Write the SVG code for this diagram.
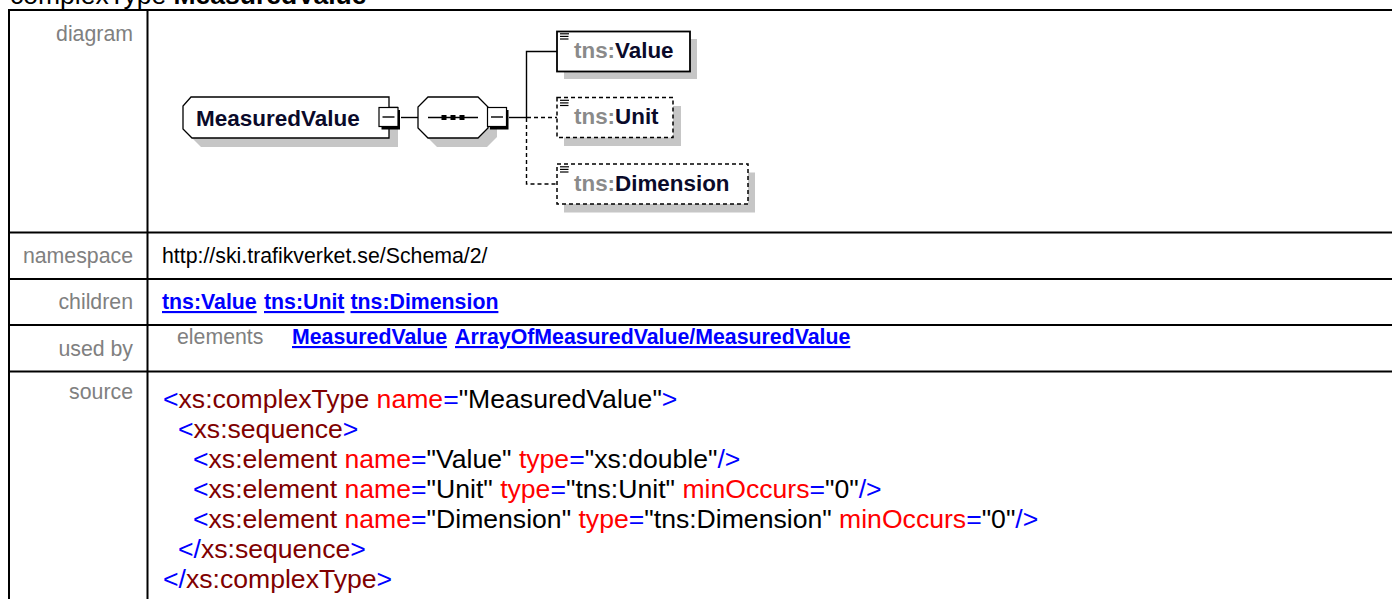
<svg xmlns="http://www.w3.org/2000/svg" width="1392" height="599" viewBox="0 0 1392 599">
  <style>
    text { font-family: "Liberation Sans", Arial, Helvetica, sans-serif; }
    .hdr { font-size: 26.5px; fill: #000; }
    .lbl { font-size: 21.3px; fill: #808080; text-anchor: end; }
    .lbl2 { font-size: 21.3px; fill: #808080; }
    .val { font-size: 21.3px; fill: #000; }
    .lnk { font-size: 21.3px; font-weight: bold; fill: #0000ff; text-decoration: underline; }
    .src { font-size: 26.6px; fill: #000; }
    .src .b { fill: #0000ff; }
    .src .t { fill: #800000; }
    .src .a { fill: #ff0000; }
    .grid { stroke: #000; stroke-width: 2; fill: none; }
    .shadow { fill: #c6c6c6; stroke: none; }
    .shape { fill: #fff; stroke: #000; stroke-width: 1.3; }
    .box { fill: #fff; stroke: #000; stroke-width: 1.8; }
    .opt { fill: #fff; stroke: #000; stroke-width: 1.5; stroke-dasharray: 4 3; }
    .wire { stroke: #000; stroke-width: 1.4; fill: none; }
    .dash { stroke: #000; stroke-width: 1.4; fill: none; stroke-dasharray: 4 3; }
    .btn { fill: #fff; stroke: #000; stroke-width: 1.2; }
    .btnsh { stroke: #000; stroke-width: 3; fill: none; }
    .ico { stroke: #000; stroke-width: 1.2; }
    .name { font-size: 22.5px; font-weight: bold; fill: #0a0a2a; }
    .pfx { font-size: 22.4px; font-weight: bold; }
    .pfx .p { fill: #8a8a8a; }
    .pfx .n { fill: #0a0a2a; }
  </style>
  <defs>
    <!-- collapse button: white square, heavy right/bottom edge, minus sign -->
    <g id="minus">
      <path class="btnsh" d="M 19.5 2.5 V 20.5 H 2.5"/>
      <rect class="btn" x="0" y="0" width="19" height="19"/>
      <line class="wire" x1="3.5" y1="9.5" x2="15.5" y2="9.5"/>
    </g>
    <!-- simple-content element icon -->
    <g id="doc">
      <line class="ico" x1="0" y1="0.8" x2="9" y2="0.8"/>
      <line class="ico" x1="0" y1="3.4" x2="8.5" y2="3.4"/>
      <line class="ico" x1="0" y1="6" x2="8.5" y2="6"/>
    </g>
  </defs>

  <rect width="1392" height="599" fill="#fff"/>

  <!-- page heading -->
  <text class="hdr" x="10" y="4">complexType <tspan font-weight="bold">MeasuredValue</tspan></text>

  <!-- table grid -->
  <g id="table">
    <line class="grid" x1="9" y1="9" x2="9" y2="599"/>
    <line class="grid" x1="147.5" y1="9" x2="147.5" y2="599"/>
    <line class="grid" x1="8" y1="10" x2="1392" y2="10"/>
    <line class="grid" x1="8" y1="232.5" x2="1392" y2="232.5"/>
    <line class="grid" x1="8" y1="279" x2="1392" y2="279"/>
    <line class="grid" x1="8" y1="325" x2="1392" y2="325"/>
    <line class="grid" x1="8" y1="371.5" x2="1392" y2="371.5"/>
  </g>

  <!-- row labels -->
  <text class="lbl" x="133" y="41">diagram</text>
  <text class="lbl" x="133" y="263">namespace</text>
  <text class="lbl" x="133" y="309">children</text>
  <text class="lbl" x="133" y="356">used by</text>
  <text class="lbl" x="133" y="399">source</text>

  <!-- connectors -->
  <g id="connectors">
    <line class="wire" x1="401" y1="117.5" x2="418" y2="117.5"/>
    <line class="wire" x1="509" y1="117.5" x2="527" y2="117.5"/>
    <path class="wire" d="M 526.5 118 V 51.5 H 557"/>
    <path class="dash" d="M 527 117.5 H 557"/>
    <path class="dash" d="M 526.5 118 V 184 H 557"/>
  </g>

  <!-- complex type node -->
  <g id="node-measuredvalue">
    <polygon class="shadow" points="200,106 398,106 398,147 201,147 192,138 192,115"/>
    <polygon class="shape" points="191,97 389,97 389,138 192,138 183,129 183,106"/>
    <text class="name" x="196" y="125.5">MeasuredValue</text>
    <use href="#minus" x="379" y="107.5"/>
  </g>

  <!-- sequence compositor -->
  <g id="node-sequence">
    <polygon class="shadow" points="437,106 487,106 497,116 497,137 487,147 437,147 427,137 427,116"/>
    <polygon class="shape" points="428,97 478,97 488,107 488,128 478,138 428,138 418,128 418,107"/>
    <line class="wire" x1="428" y1="117.5" x2="478" y2="117.5"/>
    <rect x="441.5" y="115" width="5" height="5" fill="#000"/>
    <rect x="450.5" y="115" width="5" height="5" fill="#000"/>
    <rect x="459.5" y="115" width="5" height="5" fill="#000"/>
    <use href="#minus" x="487.5" y="107.5"/>
  </g>

  <!-- child elements -->
  <g id="node-value">
    <rect class="shadow" x="564" y="39" width="133" height="40"/>
    <rect class="box" x="557" y="31.5" width="133" height="40"/>
    <use href="#doc" x="560" y="33"/>
    <text class="pfx" x="574" y="58"><tspan class="p">tns:</tspan><tspan class="n">Value</tspan></text>
  </g>

  <g id="node-unit">
    <rect class="shadow" x="564" y="106" width="117" height="40"/>
    <rect class="opt" x="557" y="97.5" width="116" height="40"/>
    <use href="#doc" x="560" y="99.5"/>
    <text class="pfx" x="574" y="124"><tspan class="p">tns:</tspan><tspan class="n">Unit</tspan></text>
  </g>

  <g id="node-dimension">
    <rect class="shadow" x="564" y="172.5" width="191" height="40"/>
    <rect class="opt" x="557" y="164" width="191" height="40"/>
    <use href="#doc" x="560" y="166"/>
    <text class="pfx" x="574" y="190.5"><tspan class="p">tns:</tspan><tspan class="n">Dimension</tspan></text>
  </g>

  <!-- namespace / children / used by -->
  <text class="val" x="162" y="263">http://ski.trafikverket.se/Schema/2/</text>
  <text class="lnk" x="162" y="309">tns:Value</text>
  <text class="lnk" x="264" y="309">tns:Unit</text>
  <text class="lnk" x="350.5" y="309">tns:Dimension</text>
  <text class="lbl2" x="177" y="344">elements</text>
  <text class="lnk" x="292" y="344">MeasuredValue</text>
  <text class="lnk" x="455" y="344">ArrayOfMeasuredValue/MeasuredValue</text>

  <!-- schema source -->
  <g class="src">
    <text x="163" y="408"><tspan class="b">&lt;</tspan><tspan class="t">xs:complexType</tspan> <tspan class="a">name</tspan><tspan class="b">=</tspan>"MeasuredValue"<tspan class="b">&gt;</tspan></text>
    <text x="178" y="438"><tspan class="b">&lt;</tspan><tspan class="t">xs:sequence</tspan><tspan class="b">&gt;</tspan></text>
    <text x="193" y="468"><tspan class="b">&lt;</tspan><tspan class="t">xs:element</tspan> <tspan class="a">name</tspan><tspan class="b">=</tspan>"Value" <tspan class="a">type</tspan><tspan class="b">=</tspan>"xs:double"<tspan class="b">/&gt;</tspan></text>
    <text x="193" y="498"><tspan class="b">&lt;</tspan><tspan class="t">xs:element</tspan> <tspan class="a">name</tspan><tspan class="b">=</tspan>"Unit" <tspan class="a">type</tspan><tspan class="b">=</tspan>"tns:Unit" <tspan class="a">minOccurs</tspan><tspan class="b">=</tspan>"0"<tspan class="b">/&gt;</tspan></text>
    <text x="193" y="528"><tspan class="b">&lt;</tspan><tspan class="t">xs:element</tspan> <tspan class="a">name</tspan><tspan class="b">=</tspan>"Dimension" <tspan class="a">type</tspan><tspan class="b">=</tspan>"tns:Dimension" <tspan class="a">minOccurs</tspan><tspan class="b">=</tspan>"0"<tspan class="b">/&gt;</tspan></text>
    <text x="178" y="558"><tspan class="b">&lt;/</tspan><tspan class="t">xs:sequence</tspan><tspan class="b">&gt;</tspan></text>
    <text x="163" y="588"><tspan class="b">&lt;/</tspan><tspan class="t">xs:complexType</tspan><tspan class="b">&gt;</tspan></text>
  </g>
</svg>
